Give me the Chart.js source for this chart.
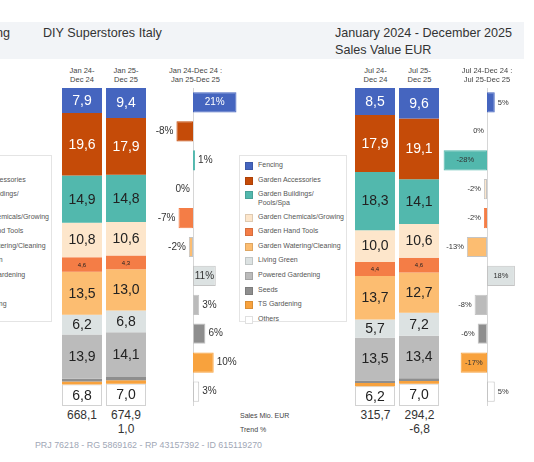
<!DOCTYPE html>
<html>
<head>
<meta charset="utf-8">
<script src="https://cdn.jsdelivr.net/npm/chart.js@4/dist/chart.umd.min.js"></script>
<style>
  body { margin: 0; background: #fff; font-family: "Liberation Sans", Arial, sans-serif; }
  #page { position: relative; width: 534px; height: 462px; overflow: hidden; }
  .t { position: absolute; white-space: nowrap; color: #333; }
  .c { transform: translate(-50%, -50%); text-align: center; }
  .l { transform: translate(0, -50%); }
  canvas { position: absolute; }
  .legend { position: absolute; top: 155px; width: 108px; height: 167px; border: 1px solid #e4e4e4; background: #fff; box-sizing: border-box; padding: 5px 0 0 5px; }
  .legend .item { display: flex; align-items: flex-start; margin-bottom: 5.6px; font-size: 7px; line-height: 8.4px; color: #555; }
  .legend .sw { width: 6px; height: 6px; margin: 1px 5px 0 0; border: 1px solid rgba(0,0,0,0.12); flex: none; }
</style>
</head>
<body>
<div id="page">
  <div style="position:absolute;left:0;top:22px;width:524px;height:37px;background:#f2f4f7"></div>
  <canvas id="shareFull" width="88" height="318" style="left:60px;top:88px"></canvas>
  <canvas id="trendFull" width="90" height="318" style="left:150px;top:88px"></canvas>
  <canvas id="shareHalf" width="88" height="318" style="left:353px;top:88px"></canvas>
  <canvas id="trendHalf" width="90" height="318" style="left:440px;top:88px"></canvas>
</div>
<script>
var categories = ['Fencing', 'Garden Accessories', 'Garden Buildings/\nPools/Spa', 'Garden Chemicals/Growing',
  'Garden Hand Tools', 'Garden Watering/Cleaning', 'Living Green', 'Powered Gardening', 'Seeds', 'TS Gardening', 'Others'];
var colors = ['#4565bf', '#c54b08', '#52b8ad', '#fde6cb', '#f47d46', '#fcbd71', '#dce2e2', '#bbbbbb', '#8e8e8e', '#f8a23d', '#ffffff'];
var darkLabel = [false, false, true, true, true, true, true, true, true, true, true];

var periodsFull = ['Jan 24-\nDec 24', 'Jan 25-\nDec 25'];
var periodsHalf = ['Jul 24-\nDec 24', 'Jul 25-\nDec 25'];
var compareFull = 'Jan 24-Dec 24 :\nJan 25-Dec 25';
var compareHalf = 'Jul 24-Dec 24 :\nJul 25-Dec 25';

// share of sales value, %
var shareFull24 = [7.9, 19.6, 14.9, 10.8, 4.6, 13.5, 6.2, 13.9, 0.9, 0.9, 6.8];
var shareFull25 = [9.4, 17.9, 14.8, 10.6, 4.3, 13.0, 6.8, 14.1, 1.0, 1.1, 7.0];
var shareHalf24 = [8.5, 17.9, 18.3, 10.0, 4.4, 13.7, 5.7, 13.5, 0.8, 1.0, 6.2];
var shareHalf25 = [9.6, 19.1, 14.1, 10.6, 4.6, 12.7, 7.2, 13.4, 0.8, 0.9, 7.0];

// trend vs previous period, %
var trendFull = [21, -8, 1, 0, -7, -2, 11, 3, 6, 10, 3];
var trendHalf = [5, 0, -28, -2, -2, -13, 18, -8, -6, -17, 5];

var salesFull = ['668,1', '674,9'];
var salesHalf = ['315,7', '294,2'];
var totalTrendFull = '1,0';
var totalTrendHalf = '-6,8';

var page = document.getElementById('page');

function text(str, x, y, size, opts) {
  opts = opts || {};
  var d = document.createElement('div');
  d.className = 't ' + (opts.align === 'left' ? 'l' : 'c');
  d.style.left = x + 'px';
  d.style.top = y + 'px';
  d.style.fontSize = size + 'px';
  d.style.lineHeight = (opts.lh || size * 1.15) + 'px';
  if (opts.color) d.style.color = opts.color;
  d.innerHTML = str.replace(/\n/g, '<br>');
  page.appendChild(d);
  return d;
}

function legend(left) {
  var box = document.createElement('div');
  box.className = 'legend';
  box.style.left = left + 'px';
  categories.forEach(function(cat, i) {
    var item = document.createElement('div');
    item.className = 'item';
    item.innerHTML = '<span class="sw" style="background:' + colors[i] + '"></span><span>' + cat.replace('\n', '<br>') + '</span>';
    box.appendChild(item);
  });
  page.appendChild(box);
}

function fmt(v) { return v.toFixed(1).replace('.', ','); }

var stackLabels = {
  id: 'stackLabels',
  afterDatasetsDraw: function(chart) {
    var ctx = chart.ctx;
    ctx.save();
    ctx.textAlign = 'center';
    ctx.textBaseline = 'middle';
    chart.data.datasets.forEach(function(ds, i) {
      chart.getDatasetMeta(i).data.forEach(function(el, j) {
        var v = ds.data[j];
        if (v < 2) return;
        var size = v < 5 ? 6 : 14;
        ctx.font = size + 'px "Liberation Sans", Arial, sans-serif';
        ctx.fillStyle = darkLabel[i] ? '#222' : '#fff';
        ctx.fillText(fmt(v), el.x, (el.y + el.base) / 2 + 0.5);
      });
    });
    ctx.restore();
  }
};

var trendLabels = {
  id: 'trendLabels',
  beforeDatasetsDraw: function(chart) {
    var ctx = chart.ctx, area = chart.chartArea;
    var x0 = chart.scales.x.getPixelForValue(0);
    ctx.save();
    ctx.strokeStyle = '#d6d6d6';
    ctx.lineWidth = 1;
    ctx.beginPath();
    ctx.moveTo(Math.round(x0) + 0.5, area.top);
    ctx.lineTo(Math.round(x0) + 0.5, area.bottom);
    ctx.stroke();
    ctx.restore();
  },
  afterDatasetsDraw: function(chart, args, opts) {
    var ctx = chart.ctx;
    var ds = chart.data.datasets[0];
    ctx.save();
    ctx.font = opts.size + 'px "Liberation Sans", Arial, sans-serif';
    ctx.textBaseline = 'middle';
    chart.getDatasetMeta(0).data.forEach(function(el, j) {
      var v = ds.data[j];
      var len = Math.abs(el.x - el.base);
      var label = v + '%';
      if (len > 22) {
        ctx.textAlign = 'center';
        ctx.fillStyle = darkLabel[j] ? '#333' : '#fff';
        ctx.fillText(label, (el.x + el.base) / 2, el.y);
      } else if (v > 0) {
        ctx.textAlign = 'left';
        ctx.fillStyle = '#333';
        ctx.fillText(label, el.x + 3, el.y);
      } else {
        ctx.textAlign = 'right';
        ctx.fillStyle = '#333';
        ctx.fillText(label, Math.min(el.x, el.base) - 3, el.y);
      }
    });
    ctx.restore();
  }
};

function shareChart(id, periods, a, b) {
  new Chart(document.getElementById(id), {
    type: 'bar',
    data: {
      labels: periods,
      datasets: categories.map(function(cat, i) {
        return {
          label: cat,
          data: [a[i], b[i]],
          backgroundColor: colors[i],
          borderColor: '#d2d2d2',
          borderWidth: i === 10 ? 1 : 0,
          borderSkipped: false,
          barPercentage: 40 / 44,
          categoryPercentage: 1
        };
      })
    },
    options: {
      responsive: false,
      animation: false,
      plugins: { legend: { display: false }, tooltip: { enabled: false } },
      scales: {
        x: { stacked: true, display: false },
        y: { stacked: true, display: false, reverse: true, min: 0, max: 100 }
      }
    },
    plugins: [stackLabels]
  });
}

function trendChart(id, values, min, max, size) {
  new Chart(document.getElementById(id), {
    type: 'bar',
    data: {
      labels: categories,
      datasets: [{
        data: values,
        backgroundColor: colors,
        borderColor: colors.map(function(c, i) { return i >= 3 && i !== 4 && i !== 9 ? '#c4c4c4' : c; }),
        borderWidth: 1,
        borderSkipped: false,
        barPercentage: 0.7,
        categoryPercentage: 1
      }]
    },
    options: {
      indexAxis: 'y',
      responsive: false,
      animation: false,
      plugins: { legend: { display: false }, tooltip: { enabled: false }, trendLabels: { size: size } },
      scales: {
        x: { display: false, min: min, max: max },
        y: { display: false }
      }
    },
    plugins: [trendLabels]
  });
}

legend(-56);
legend(239);

shareChart('shareFull', periodsFull, shareFull24, shareFull25);
shareChart('shareHalf', periodsHalf, shareHalf24, shareHalf25);
trendChart('trendFull', trendFull, -43 / 2.07, 47 / 2.07, 10);
trendChart('trendHalf', trendHalf, -47 / 1.55, 43 / 1.55, 7.5);

text('ng', -4, 33, 12.6, { align: 'left' });
text('DIY Superstores Italy', 43, 32.5, 12.6, { align: 'left' });
text('January 2024 - December 2025', 335, 32.5, 12.6, { align: 'left' });
text('Sales Value EUR', 335, 50, 12.6, { align: 'left' });

text(periodsFull[0], 82, 76, 7.5, { color: '#444', lh: 8.6 });
text(periodsFull[1], 126, 76, 7.5, { color: '#444', lh: 8.6 });
text(compareFull, 195.5, 76, 7.5, { color: '#444', lh: 8.6 });
text(periodsHalf[0], 375.5, 76, 7.5, { color: '#444', lh: 8.6 });
text(periodsHalf[1], 419.5, 76, 7.5, { color: '#444', lh: 8.6 });
text(compareHalf, 487, 76, 7.5, { color: '#444', lh: 8.6 });

text(salesFull[0], 82, 416, 12);
text(salesFull[1], 126, 416, 12);
text(totalTrendFull, 126, 429.5, 12);
text(salesHalf[0], 375.5, 416, 12);
text(salesHalf[1], 419.5, 416, 12);
text(totalTrendHalf, 419.5, 429.5, 12);
text('Sales Mio. EUR', 240, 416, 7, { align: 'left', color: '#444' });
text('Trend %', 240, 430, 7, { align: 'left', color: '#444' });

text('PRJ 76218 - RG 5869162 - RP 43157392 - ID 615119270', 148.5, 445, 8.9, { color: '#9fa7b6' });
</script>
</body>
</html>
